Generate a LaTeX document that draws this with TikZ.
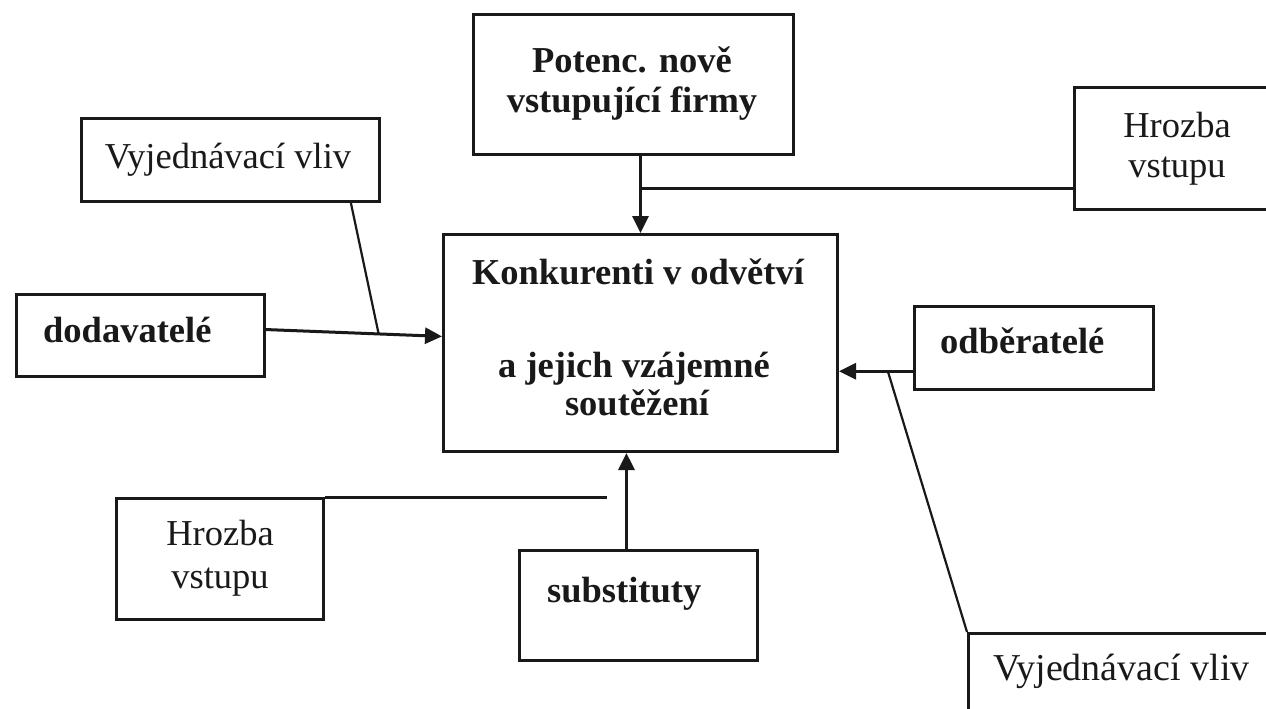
\documentclass[tikz,border=0pt]{standalone}
\usepackage{fontspec}
\setmainfont{Liberation Serif}
\usetikzlibrary{arrows.meta,calc}
\begin{document}
\begin{tikzpicture}[x=1pt,y=-1pt,
  box/.style={draw=black!90, line width=3pt, rectangle, inner sep=0pt, anchor=north west},
  conn/.style={draw=black!90, line width=3pt},
  arr/.style={conn, -{Triangle[length=17pt,width=16pt]}},
  txt/.style={font=\fontsize{36.5}{41}\selectfont, inner sep=0pt, anchor=base, text=black!90},
  btxt/.style={txt, font=\fontsize{36.5}{41}\selectfont\bfseries}]
\useasboundingbox (0,0) rectangle (1266,709);
\clip (0,0) rectangle (1266,709);
\fill[white] (0,0) rectangle (1266,709);

% boxes
\node[box, minimum width=320, minimum height=140] (potenc) at (472,13) {};
\node[box, minimum width=394, minimum height=217] (central) at (442,233) {};
\node[box, minimum width=220, minimum height=122] (hrozbaR) at (1073,86) {};
\node[box, minimum width=298, minimum height=83] (vyjL) at (80,117) {};
\node[box, minimum width=248, minimum height=82] (dod) at (15,293) {};
\node[box, minimum width=239, minimum height=83] (odb) at (913,305) {};
\node[box, minimum width=330, minimum height=110] (vyjR) at (967,632) {};
\node[box, minimum width=207, minimum height=121] (hrozbaL) at (115,497) {};
\node[box, minimum width=238, minimum height=110] (sub) at (518,549) {};

% texts
\node[btxt] (tp1) at (632,72) {Potenc. nově};
\node[btxt] (tp2) at (632,112) {vstupující firmy};
\node[btxt] (tc1) at (638,284) {Konkurenti v odvětví};
\node[btxt] (tc2) at (634,377) {a jejich vzájemné};
\node[btxt] (tc3) at (637,415) {soutěžení};
\node[txt] (tvl) at (228,168) {Vyjednávací vliv};
\node[btxt, anchor=base west] (td) at (43,342) {dodavatelé};
\node[txt] (thr1) at (1177,137) {Hrozba};
\node[txt] (thr2) at (1177,177) {vstupu};
\node[btxt, anchor=base west] (to) at (940,353) {odběratelé};
\node[txt, anchor=base west, font=\fontsize{38}{41}\selectfont] (tvr) at (993,680) {Vyjednávací vliv};
\node[txt] (thl1) at (220,545) {Hrozba};
\node[txt] (thl2) at (220,588) {vstupu};
\node[btxt, anchor=base west] (ts) at (547,602) {substituty};

% top connector
\draw[arr] (potenc.south -| central.north) -- (central.north);
\coordinate (j1) at ($(potenc.south -| central.north)!0.425!(central.north)$);
\draw[conn] (j1) -- (j1 -| hrozbaR.west);

% left connector
\coordinate (dE) at ($(dod.north east)!0.43!(dod.south east)$);
\coordinate (cW) at ($(central.north west)!0.47!(central.south west)$);
\draw[arr] (dE) -- (cW);
\coordinate (jl) at ($(dE)!0.64!(cW)$);
\coordinate (vlb) at ($(vyjL.south west)!0.9!(vyjL.south east)$);
\draw[conn, line width=2.2pt] (vlb) -- (jl);

% right connector
\coordinate (oW) at ($(odb.north west)!0.77!(odb.south west)$);
\draw[arr] (oW) -- (oW -| central.east);
\coordinate (jr) at ($(oW)!0.34!(oW -| central.east)$);
\draw[conn, line width=2.2pt] (jr) -- (vyjR.north west);

% bottom connector
\coordinate (sN) at ($(sub.north west)!0.45!(sub.north east)$);
\draw[arr] (sN) -- (sN |- central.south);
\coordinate (hlEnd) at (607,497);
\draw[conn] (hrozbaL.north east) -- (hlEnd);
\end{tikzpicture}
\end{document}
